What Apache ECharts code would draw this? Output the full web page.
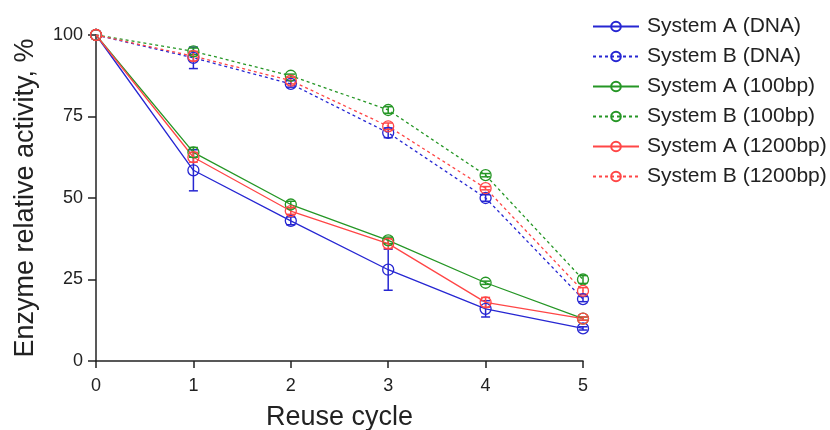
<!DOCTYPE html>
<html>
<head>
<meta charset="utf-8">
<script src="https://cdn.jsdelivr.net/npm/echarts@6/dist/echarts.min.js"></script>
<style>
  html, body { margin: 0; padding: 0; background: #fff; }
  #chart { width: 830px; height: 430px; }
</style>
</head>
<body>
<div id="chart"></div>
<script>
// ── Data ────────────────────────────────────────────────────────────────────
const CYCLES = [0, 1, 2, 3, 4, 5];

const A_DNA   = [100, 58.5, 43, 28, 16, 10];
const B_DNA   = [100, 93, 85, 70, 50, 19];
const A_100   = [100, 64, 48, 37, 24, 13];
const B_100   = [100, 95, 87.5, 77, 57, 25];
const A_1200  = [100, 62.5, 46, 36, 18, 13];
const B_1200  = [100, 93.5, 86, 72, 53, 21.5];

// +/- error (SD) per point
const A_DNA_ERR  = [0, 6.3, 1.2, 6.3, 2.5, 0.5];
const B_DNA_ERR  = [0, 3.3, 1, 1.5, 1, 0.8];
const A_100_ERR  = [0, 1.5, 1, 1, 0.5, 0.5];
const B_100_ERR  = [0, 1, 0.5, 1, 0.5, 1.2];
const A_1200_ERR = [0, 1.5, 1, 1.5, 1.5, 0.5];
const B_1200_ERR = [0, 1.5, 1, 1, 0.5, 1];

const BLUE  = '#2626d2';
const GREEN = '#259625';
const RED   = '#ff4646';

const SERIES = [
  { name: 'System A (DNA)',    data: A_DNA,  err: A_DNA_ERR,  color: BLUE,  dashed: false },
  { name: 'System B (DNA)',    data: B_DNA,  err: B_DNA_ERR,  color: BLUE,  dashed: true  },
  { name: 'System A (100bp)',  data: A_100,  err: A_100_ERR,  color: GREEN, dashed: false },
  { name: 'System B (100bp)',  data: B_100,  err: B_100_ERR,  color: GREEN, dashed: true  },
  { name: 'System A (1200bp)', data: A_1200, err: A_1200_ERR, color: RED,   dashed: false },
  { name: 'System B (1200bp)', data: B_1200, err: B_1200_ERR, color: RED,   dashed: true  }
];

const FONT = '"Liberation Sans", Arial, sans-serif';
const INK = '#222';

// ── Series ──────────────────────────────────────────────────────────────────
// hollow circles: transparent fill so the line shows through, like the original
const lineSeries = SERIES.map(s => ({
  name: s.name,
  type: 'line',
  data: CYCLES.map((c, i) => [c, s.data[i]]),
  symbol: 'circle',
  symbolSize: 11,
  z: 3,
  itemStyle: { color: 'rgba(255,255,255,0)', borderColor: s.color, borderWidth: 1.3 },
  lineStyle: { color: s.color, width: 1.3, type: s.dashed ? [3, 3] : 'solid' },
  animation: false
}));

const errSeries = SERIES.map(s => ({
  name: s.name + ' err',
  type: 'custom',
  z: 2,
  silent: true,
  data: CYCLES.map((c, i) => [c, s.data[i], s.err[i]]),
  renderItem(params, api) {
    const x = api.value(0), y = api.value(1), e = api.value(2);
    if (!e) return null;
    const lo = api.coord([x, y - e]);
    const hi = api.coord([x, y + e]);
    const cap = 4.5;
    const style = { stroke: s.color, lineWidth: 1.5 };
    return {
      type: 'group',
      children: [
        { type: 'line', shape: { x1: lo[0], y1: lo[1], x2: hi[0], y2: hi[1] }, style },
        { type: 'line', shape: { x1: lo[0] - cap, y1: lo[1], x2: lo[0] + cap, y2: lo[1] }, style },
        { type: 'line', shape: { x1: hi[0] - cap, y1: hi[1], x2: hi[0] + cap, y2: hi[1] }, style }
      ]
    };
  },
  animation: false
}));

// ── Chart ───────────────────────────────────────────────────────────────────
const chart = echarts.init(document.getElementById('chart'));
chart.setOption({
  backgroundColor: '#fff',
  animation: false,
  textStyle: { fontFamily: FONT },
  // v6 would otherwise shrink the grid to keep the big axis names inside
  grid: { left: 96, right: 247, top: 35, bottom: 69, containLabel: false, outerBoundsMode: 'none' },
  legend: {
    data: SERIES.map(s => s.name),
    orient: 'vertical',
    left: 592,
    top: 16,
    itemWidth: 46,
    itemHeight: 12,
    itemGap: 9,
    padding: 0,
    textStyle: { fontFamily: FONT, fontSize: 21, color: INK, padding: [0, 0, 0, 3] },
    selectedMode: false
  },
  xAxis: {
    type: 'value',
    min: 0, max: 5, interval: 1,
    name: 'Reuse cycle',
    nameLocation: 'middle',
    nameGap: 43,
    nameTextStyle: { fontFamily: FONT, fontSize: 27, color: INK },
    axisLine: { lineStyle: { color: INK, width: 1.5 } },
    axisTick: { length: 7, lineStyle: { color: INK, width: 1.5 } },
    axisLabel: { fontFamily: FONT, fontSize: 18, color: INK, margin: 16 },
    splitLine: { show: false }
  },
  yAxis: {
    type: 'value',
    min: 0, max: 100, interval: 25,
    name: 'Enzyme relative activity, %',
    nameLocation: 'middle',
    nameGap: 57,
    nameTextStyle: { fontFamily: FONT, fontSize: 27, color: INK },
    axisLine: { show: true, lineStyle: { color: INK, width: 1.5 } },
    axisTick: { show: true, length: 8, lineStyle: { color: INK, width: 1.5 } },
    axisLabel: { fontFamily: FONT, fontSize: 18, color: INK, margin: 13 },
    splitLine: { show: false }
  },
  series: [...errSeries, ...lineSeries]
});
</script>
</body>
</html>
